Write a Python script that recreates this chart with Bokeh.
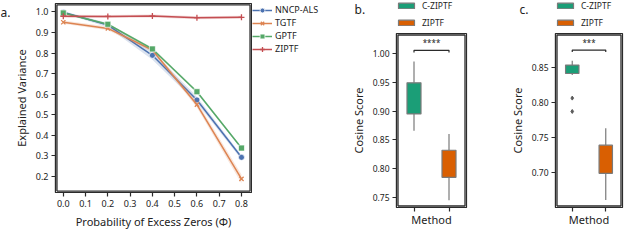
from bokeh.plotting import figure
from bokeh.layouts import row, column
from bokeh.models import (Range1d, Legend, LegendItem, FixedTicker, ColumnDataSource,
                          PrintfTickFormatter)
from bokeh.embed import file_html
from bokeh.resources import INLINE
from bokeh.core.properties import value

# ---------------- data: panel a ----------------
phi = [0.0, 0.2, 0.4, 0.6, 0.8]
series_names = ["NNCP-ALS", "TGTF", "GPTF", "ZIPTF"]
nncp = [0.998, 0.936, 0.789, 0.572, 0.293]
nncp_lo = [0.993, 0.926, 0.768, 0.557, 0.283]
nncp_hi = [1.003, 0.946, 0.810, 0.587, 0.303]
tgtf = [0.950, 0.920, 0.815, 0.549, 0.188]
tgtf_lo = [0.942, 0.911, 0.805, 0.535, 0.166]
tgtf_hi = [0.958, 0.929, 0.825, 0.565, 0.210]
gptf = [0.995, 0.940, 0.820, 0.612, 0.338]
gptf_lo = [0.990, 0.935, 0.813, 0.605, 0.332]
gptf_hi = [1.000, 0.945, 0.827, 0.619, 0.344]
ziptf = [0.979, 0.978, 0.980, 0.972, 0.974]
ziptf_lo = [0.972, 0.971, 0.973, 0.965, 0.967]
ziptf_hi = [0.986, 0.985, 0.987, 0.979, 0.981]
a_xticks = [0.0, 0.1, 0.2, 0.3, 0.4, 0.5, 0.6, 0.7, 0.8]
a_yticks = [0.2, 0.3, 0.4, 0.5, 0.6, 0.7, 0.8, 0.9, 1.0]
a_xrange = (-0.035, 0.845)
a_yrange = (0.122, 1.041)

# ---------------- data: panels b and c ----------------
box_methods = ["C-ZIPTF", "ZIPTF"]
box_pos = [0, 1]
box_xrange = (-0.5, 1.5)
b_q1 = [0.895, 0.785]
b_med = [0.917, 0.813]
b_q3 = [0.949, 0.832]
b_lo = [0.866, 0.745]
b_hi = [0.986, 0.860]
b_sig = "****"
b_bracket = [1.0015, 1.0054]
b_yticks = [0.75, 0.80, 0.85, 0.90, 0.95, 1.00]
b_yrange = (0.7326, 1.0346)

c_q1 = [0.841, 0.699]
c_med = [0.848, 0.734]
c_q3 = [0.853, 0.739]
c_lo = [0.839, 0.661]
c_hi = [0.859, 0.763]
c_out_x = [0, 0]
c_out_y = [0.806, 0.787]
c_sig = "***"
c_bracket = [0.8717, 0.8743]
c_yticks = [0.70, 0.75, 0.80, 0.85]
c_yrange = (0.6504, 0.8979)

FONT = "Noto Sans"
DARK = "#2b2b2b"
TXT = "#222222"
line_colors = ["#4c72b0", "#dd8452", "#55a868", "#c44e52"]
box_colors = ["#1b9e77", "#d95f02"]
EDGE = "#7a7a7a"
H = 231


def blank(w, h, xr=(0, 1), yr=(0, 1)):
    p = figure(width=w, height=h, output_backend="svg", toolbar_location=None,
               x_range=Range1d(*xr), y_range=Range1d(*yr),
               min_border_left=0, min_border_right=0, min_border_top=0, min_border_bottom=0)
    p.axis.visible = False
    p.xgrid.visible = False
    p.ygrid.visible = False
    p.outline_line_color = None
    return p


def letter_fig(w, h, txt, x):
    p = blank(w, h, (0, w), (h, 0))
    p.text(x=[x], y=[0], text=[txt], text_align="left", text_baseline="top",
           text_font=value(FONT), text_font_size="12px", text_color=TXT)
    return p


def style_axes(p, tick_size):
    p.xgrid.visible = False
    p.ygrid.visible = False
    p.outline_line_color = DARK
    p.outline_line_width = 1.2
    for ax in (p.xaxis[0], p.yaxis[0]):
        ax.axis_line_color = DARK
        ax.axis_line_width = 1.2
        ax.major_tick_line_color = DARK
        ax.major_tick_line_width = 1.2
        ax.major_tick_out = 4
        ax.major_tick_in = 0
        ax.minor_tick_line_color = None
        ax.major_label_text_font = FONT
        ax.major_label_text_font_size = tick_size
        ax.major_label_text_color = TXT
        ax.axis_label_text_font = FONT
        ax.axis_label_text_font_size = "11px"
        ax.axis_label_text_font_style = "normal"
        ax.axis_label_text_color = TXT
        ax.major_label_standoff = 3
        ax.axis_label_standoff = 4


def frame_box(p, xr, yr, fw, fh, inset=1.5):
    # box traced just inside the plot frame with a line glyph, derived from the ranges
    dx = (xr[1] - xr[0]) / fw * inset
    dy = (yr[1] - yr[0]) / fh * inset
    l, r = xr[0] + dx, xr[1] - dx
    b, t = yr[0] + dy, yr[1] - dy
    p.line([l, r, r, l, l], [b, b, t, t, b], line_color=DARK, line_width=1.3)


# ---------------- panel a ----------------
A_W, A_L, A_R, A_T, A_B = 242, 40, 1, 3, 33
pa = figure(width=A_W, height=H, output_backend="svg", toolbar_location=None,
            x_range=Range1d(*a_xrange), y_range=Range1d(*a_yrange),
            min_border_left=A_L, min_border_right=A_R, min_border_top=A_T, min_border_bottom=A_B)
style_axes(pa, "9px")
pa.xaxis.ticker = FixedTicker(ticks=a_xticks)
pa.yaxis.ticker = FixedTicker(ticks=a_yticks)
pa.xaxis.formatter = PrintfTickFormatter(format="%.1f")
pa.yaxis.formatter = PrintfTickFormatter(format="%.1f")
pa.xaxis.axis_label = "Probability of Excess Zeros (Φ)"
pa.yaxis.axis_label = "Explained Variance"

leg_a_fig = blank(80, H, (10, 11), (10, 11))

all_y = [nncp, tgtf, gptf, ziptf]
all_lo = [nncp_lo, tgtf_lo, gptf_lo, ziptf_lo]
all_hi = [nncp_hi, tgtf_hi, gptf_hi, ziptf_hi]
markers = ["circle", "x", "square", "cross"]
items = []
for name, ys, lo, hi, col, mk in zip(series_names, all_y, all_lo, all_hi, line_colors, markers):
    pa.varea(x=phi, y1=lo, y2=hi, fill_color=col, fill_alpha=0.2)
    rs = []
    for fig in (pa, leg_a_fig):
        ln = fig.line(phi, ys, line_color=col, line_width=1.5)
        if mk in ("x", "cross"):
            sc = fig.scatter(phi, ys, marker=mk, size=6, line_color=col, line_width=1.3)
        else:
            sc = fig.scatter(phi, ys, marker=mk, size=6, fill_color=col, line_color="white",
                             line_width=0.7)
        rs = [ln, sc]
    items.append(LegendItem(label=name, renderers=rs))
frame_box(pa, a_xrange, a_yrange, A_W - A_L - A_R, H - A_T - A_B)

leg_a = Legend(items=items, location="top_left", orientation="vertical",
               label_text_font=FONT, label_text_font_size="9px", label_text_color=TXT,
               glyph_width=20, glyph_height=12, label_height=12, spacing=0,
               label_standoff=3, padding=8, margin=0,
               border_line_color=None, background_fill_alpha=0)
leg_a_fig.add_layout(leg_a)

col_a0 = letter_fig(10, H, "a.", 0)

# ---------------- box panels ----------------
TOPH = 30
B_TOP, B_BOT, B_R = 3, 24, 2


def box_panel(width, left, yr, q1, med, q3, lo, hi, yticks, sig, bracket, letter, letter_x,
              out_x=None, out_y=None):
    ph = H - TOPH
    p = figure(width=width, height=ph, output_backend="svg", toolbar_location=None,
               x_range=Range1d(*box_xrange), y_range=Range1d(*yr),
               min_border_left=left, min_border_right=B_R, min_border_top=B_TOP,
               min_border_bottom=B_BOT)
    style_axes(p, "8.5px")
    p.xaxis.ticker = FixedTicker(ticks=box_pos)
    p.xaxis.major_label_overrides = {0: "", 1: ""}
    p.xaxis.major_label_standoff = 0
    p.xaxis.axis_label = "Method"
    p.xaxis.axis_label_standoff = 0
    p.yaxis.ticker = FixedTicker(ticks=yticks)
    p.yaxis.formatter = PrintfTickFormatter(format="%.2f")
    p.yaxis.axis_label = "Cosine Score"
    src = ColumnDataSource(dict(x=box_pos, q1=q1, med=med, q3=q3, lo=lo, hi=hi,
                                color=box_colors, name=box_methods))
    p.segment(x0="x", x1="x", y0="q3", y1="hi", source=src, line_color=EDGE, line_width=1.2)
    p.segment(x0="x", x1="x", y0="lo", y1="q1", source=src, line_color=EDGE, line_width=1.2)
    p.vbar(x="x", width=0.4, bottom="q1", top="q3", source=src,
           fill_color="color", line_color=EDGE, line_width=1.2)
    p.rect(x="x", y="med", width=0.4, height=0, source=src, line_color="#555555", line_width=1.0,
           fill_color=None)
    if out_x is not None:
        p.scatter(out_x, out_y, marker="diamond", size=4, fill_color="#5a5a5a", line_color="#5a5a5a")
    bx = [box_pos[0], box_pos[0], box_pos[1], box_pos[1]]
    by = [bracket[0], bracket[1], bracket[1], bracket[0]]
    p.line(bx, by, line_color=DARK, line_width=1.2)
    p.text(x=[(box_pos[0] + box_pos[1]) / 2], y=[bracket[1]], text=[sig], text_align="center",
           text_baseline="bottom", text_font=value(FONT), text_font_size="8px", text_color=TXT,
           y_offset=-2)
    frame_box(p, box_xrange, yr, width - left - B_R, ph - B_TOP - B_BOT)

    lf = blank(width - left, TOPH, (10, 11), (10, 11))
    lsrc = ColumnDataSource(dict(x=box_pos, q1=q1, q3=q3, color=box_colors))
    bars = lf.vbar(x="x", width=0.4, bottom="q1", top="q3", source=lsrc,
                   fill_color="color", line_color=EDGE, line_width=1.2)
    leg = Legend(items=[LegendItem(label=box_methods[0], renderers=[bars], index=0),
                        LegendItem(label=box_methods[1], renderers=[bars], index=1)],
                 location="top_left", orientation="vertical",
                 label_text_font=FONT, label_text_font_size="8.5px", label_text_color=TXT,
                 glyph_width=20, glyph_height=7, label_height=7, spacing=6,
                 label_standoff=6, padding=1, margin=0,
                 border_line_color=None, background_fill_alpha=0)
    lf.add_layout(leg)
    lt = letter_fig(left, TOPH, letter, letter_x)
    return column(row(lt, lf, spacing=0), p, spacing=0)


pb = box_panel(136, 64, b_yrange, b_q1, b_med, b_q3, b_lo, b_hi, b_yticks, b_sig,
               b_bracket, "b.", 22)
pc = box_panel(156, 87, c_yrange, c_q1, c_med, c_q3, c_lo, c_hi, c_yticks, c_sig,
               c_bracket, "c.", 51, c_out_x, c_out_y)

layout = row(col_a0, pa, leg_a_fig, pb, pc, spacing=0)
open("out.html", "w").write(file_html(layout, INLINE))
